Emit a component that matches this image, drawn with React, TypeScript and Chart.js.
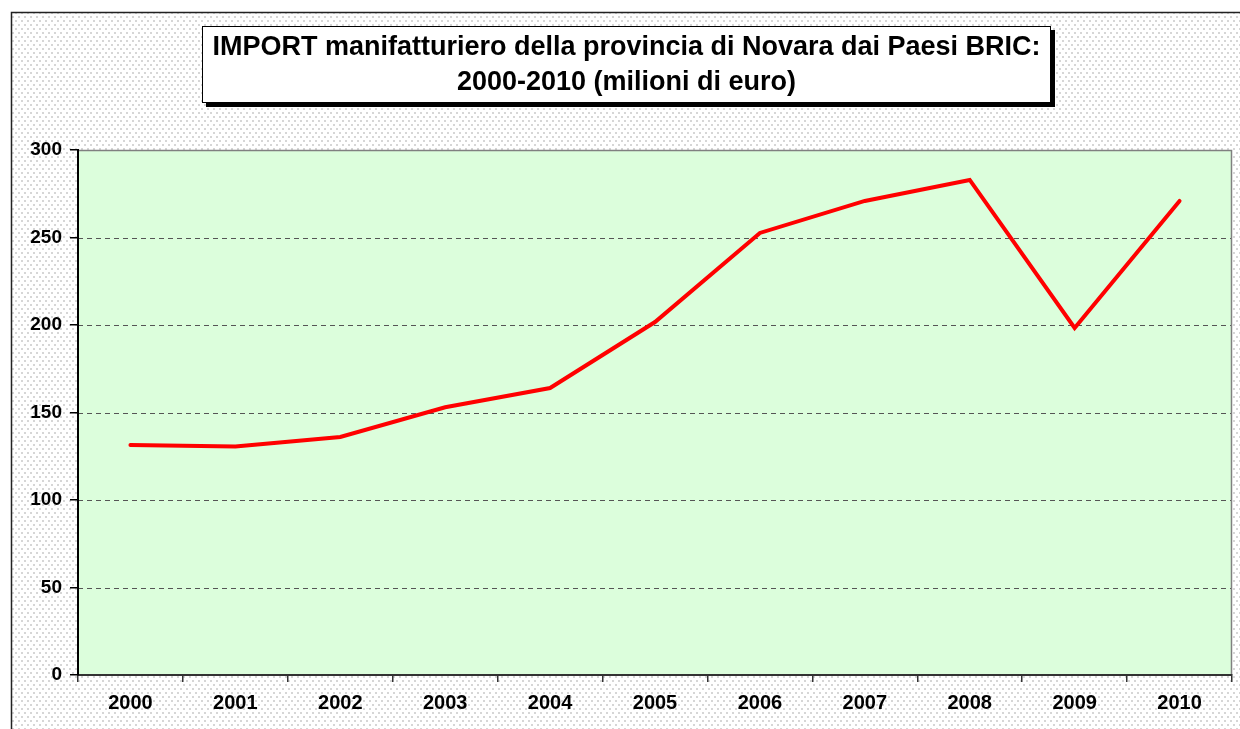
import React, { useEffect, useRef } from "react";
import { Chart, registerables } from "chart.js";

Chart.register(...registerables);

const years = ["2000", "2001", "2002", "2003", "2004", "2005", "2006", "2007", "2008", "2009", "2010"];
const importValues = [131.4, 130.6, 136, 153, 164, 201.7, 252.6, 270.9, 282.9, 198.3, 270.9];
const titleLines = [
  "IMPORT manifatturiero della provincia di Novara dai Paesi BRIC:",
  "2000-2010 (milioni di euro)",
];
const yTicks = [0, 50, 100, 150, 200, 250, 300];

const FONT = '"Liberation Sans", Arial, sans-serif';

function makePattern(ctx: CanvasRenderingContext2D) {
  const c = document.createElement("canvas");
  c.width = 6;
  c.height = 8;
  const p = c.getContext("2d")!;
  p.fillStyle = "#ffffff";
  p.fillRect(0, 0, 6, 8);
  p.fillStyle = "#d6d6d6";
  p.fillRect(0, 0, 2, 2);
  p.fillRect(3, 4, 2, 2);
  return ctx.createPattern(c, "repeat");
}

const decorPlugin = {
  id: "decor",
  beforeDraw(chart: any) {
    const { ctx, width, height, chartArea } = chart;
    ctx.save();
    ctx.fillStyle = "#ffffff";
    ctx.fillRect(0, 0, width, height);
    const pat = makePattern(ctx);
    if (pat) {
      ctx.fillStyle = pat;
      ctx.fillRect(11, 12, width - 11, height - 12);
    }
    // outer frame
    ctx.strokeStyle = "#222222";
    ctx.lineWidth = 1.5;
    ctx.beginPath();
    ctx.moveTo(11.5, height);
    ctx.lineTo(11.5, 12.5);
    ctx.lineTo(width, 12.5);
    ctx.stroke();

    // plot area
    const { left, top, right, bottom } = chartArea;
    ctx.fillStyle = "#dcfedc";
    ctx.fillRect(left, top, right - left, bottom - top);

    // dashed grid
    const y = chart.scales.y;
    ctx.strokeStyle = "#555555";
    ctx.lineWidth = 1;
    ctx.setLineDash([5, 4]);
    yTicks.forEach((v) => {
      if (v === 0 || v === 300) return;
      const py = Math.round(y.getPixelForValue(v)) + 0.5;
      ctx.beginPath();
      ctx.moveTo(left, py);
      ctx.lineTo(right, py);
      ctx.stroke();
    });
    ctx.setLineDash([]);
    // top and right frame
    ctx.strokeStyle = "#808080";
    ctx.lineWidth = 1.5;
    ctx.beginPath();
    ctx.moveTo(left, top + 0.5);
    ctx.lineTo(right - 0.5, top + 0.5);
    ctx.lineTo(right - 0.5, bottom);
    ctx.stroke();

    // title box
    const bx = 202, by = 26, bw = 849, bh = 77;
    ctx.fillStyle = "#000000";
    ctx.fillRect(bx + 4, by + 4, bw, bh);
    ctx.fillStyle = "#ffffff";
    ctx.fillRect(bx, by, bw, bh);
    ctx.strokeStyle = "#000000";
    ctx.lineWidth = 1;
    ctx.strokeRect(bx + 0.5, by + 0.5, bw - 1, bh - 1);
    ctx.fillStyle = "#000000";
    ctx.font = `bold 27px ${FONT}`;
    ctx.textAlign = "center";
    ctx.textBaseline = "middle";
    ctx.fillText(titleLines[0], bx + bw / 2, 48);
    ctx.fillText(titleLines[1], bx + bw / 2, 83);
    ctx.restore();
  },
};

export default function App() {
  const ref = useRef<HTMLCanvasElement>(null);
  useEffect(() => {
    if (!ref.current) return;
    const chart = new Chart(ref.current, {
      type: "line",
      data: {
        labels: years,
        datasets: [
          {
            label: "Import",
            data: importValues,
            borderColor: "#ff0000",
            borderWidth: 4,
            borderJoinStyle: "miter",
            borderCapStyle: "round",
            pointRadius: 0,
            fill: false,
            tension: 0,
          },
        ],
      },
      options: {
        responsive: false,
        animation: false,
        layout: { padding: { left: 0, top: 150, right: 8, bottom: 0 } },
        plugins: {
          legend: { display: false },
          title: { display: false },
          tooltip: { enabled: false },
        },
        scales: {
          x: {
            offset: true,
            grid: {
              offset: true,
              drawOnChartArea: false,
              tickLength: 7,
              color: "#333333",
              lineWidth: 1.5,
            },
            border: { color: "#333333", width: 2 },
            ticks: {
              color: "#000000",
              font: { family: FONT, size: 20, weight: "bold" },
              padding: 9,
              maxRotation: 0,
            },
            afterFit: (s: any) => {
              s.height = 54;
            },
          },
          y: {
            min: 0,
            max: 300,
            grid: {
              drawOnChartArea: false,
              tickLength: 8,
              color: "#000000",
              lineWidth: 1.5,
            },
            border: { color: "#000000", width: 2 },
            ticks: {
              stepSize: 50,
              color: "#000000",
              font: { family: FONT, size: 19, weight: "bold" },
              padding: 8,
            },
            afterFit: (s: any) => {
              s.width = 78;
            },
          },
        },
      },
      plugins: [decorPlugin],
    });
    return () => chart.destroy();
  }, []);
  return (
    <div style={{ position: "absolute", left: 0, top: 0 }}>
      <canvas ref={ref} width={1240} height={729} style={{ display: "block" }} />
    </div>
  );
}
